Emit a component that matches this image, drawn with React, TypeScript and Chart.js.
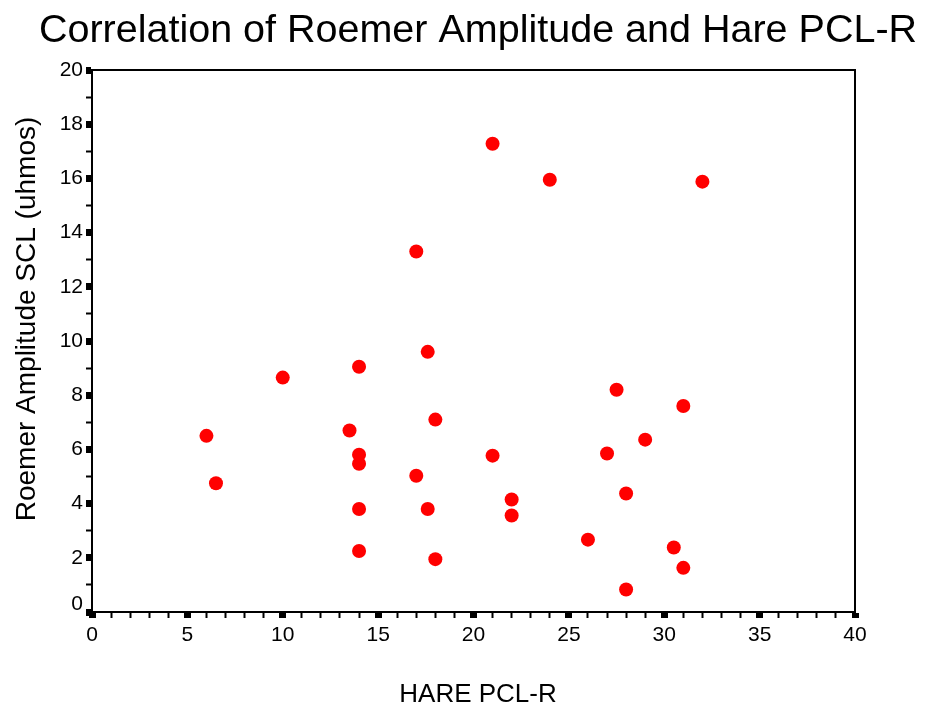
import React, { useEffect, useRef } from "react";
import { Chart, registerables } from "chart.js";

Chart.register(...registerables);

const CHART_TITLE = "Correlation of Roemer Amplitude and Hare PCL-R";
const X_TITLE = "HARE PCL-R";
const Y_TITLE = "Roemer Amplitude SCL (uhmos)";

const harePCLR = [6, 6.5, 10, 13.5, 14, 14, 14, 14, 14, 17, 17, 17.6, 17.6, 18, 18, 21, 21, 22, 22, 24, 26, 27, 27.5, 28, 28, 29, 30.5, 31, 31, 32];
const roemerSCL = [6.5, 4.75, 8.65, 6.7, 9.05, 5.8, 5.47, 3.8, 2.25, 13.3, 5.03, 9.6, 3.8, 7.1, 1.95, 17.28, 5.77, 4.15, 3.56, 15.95, 2.67, 5.85, 8.2, 4.37, 0.83, 6.36, 2.38, 7.6, 1.63, 15.88];

const X_MIN = 0, X_MAX = 40, X_MAJOR = 5;
const Y_MIN = 0, Y_MAX = 20, Y_MAJOR = 2;

const FONT = '"Liberation Sans", Arial, Helvetica, sans-serif';

const textPlugin = {
  id: "textPlugin",
  afterDraw(chart: any) {
    const { ctx, chartArea } = chart;
    ctx.save();
    ctx.strokeStyle = "#000";
    ctx.lineWidth = 2;
    ctx.beginPath();
    ctx.moveTo(chartArea.left, chartArea.top);
    ctx.lineTo(chartArea.right, chartArea.top);
    ctx.lineTo(chartArea.right, chartArea.bottom);
    ctx.stroke();
    ctx.fillStyle = "#000";
    ctx.textAlign = "center";
    ctx.textBaseline = "alphabetic";
    ctx.font = `39.5px ${FONT}`;
    ctx.fillText(CHART_TITLE, 478, 42);
    ctx.font = `26px ${FONT}`;
    ctx.fillText(X_TITLE, 478, 702);
    ctx.translate(35, 319);
    ctx.rotate(-Math.PI / 2);
    ctx.font = `28px ${FONT}`;
    ctx.fillText(Y_TITLE, 0, 0);
    ctx.restore();
  },
};

export default function App() {
  const ref = useRef<HTMLCanvasElement>(null);
  useEffect(() => {
    if (!ref.current) return;
    const points = harePCLR.map((x, i) => ({ x, y: roemerSCL[i] }));
    const chart = new Chart(ref.current, {
      type: "scatter",
      data: {
        datasets: [
          {
            data: points,
            backgroundColor: "#ff0000",
            borderWidth: 0,
            pointRadius: 7,
            pointHoverRadius: 7,
          },
        ],
      },
      options: {
        responsive: false,
        animation: false,
        layout: { padding: { left: 0, right: 71, top: 70, bottom: 0 } },
        plugins: { legend: { display: false }, tooltip: { enabled: false }, title: { display: false } },
        scales: {
          x: {
            type: "linear",
            min: X_MIN,
            max: X_MAX,
            afterFit: (s: any) => { s.height = 98; },
            border: { display: true, color: "#000", width: 2 },
            grid: {
              drawOnChartArea: false,
              drawTicks: true,
              tickLength: 6,
              tickColor: "#000",
              tickWidth: (c: any) => (c.tick && c.tick.value % X_MAJOR === 0 ? 7 : 2),
            },
            ticks: {
              stepSize: 1,
              autoSkip: false,
              maxRotation: 0,
              padding: 5,
              color: "#000",
              font: { family: FONT, size: 21 },
              callback: (v: any) => (v % X_MAJOR === 0 ? String(v) : ""),
            },
          },
          y: {
            type: "linear",
            min: Y_MIN,
            max: Y_MAX,
            afterFit: (s: any) => { s.width = 92; },
            border: { display: true, color: "#000", width: 2 },
            grid: {
              drawOnChartArea: false,
              drawTicks: true,
              tickLength: 6,
              tickColor: "#000",
              tickWidth: (c: any) => (c.tick && c.tick.value % Y_MAJOR === 0 ? 7 : 2),
            },
            ticks: {
              stepSize: 1,
              autoSkip: false,
              padding: 3,
              color: "#000",
              font: (c: any) => ({ family: FONT, size: 21, lineHeight: c.tick && c.tick.value === 0 ? 0.7 : 1.2 }),
              callback: (v: any) => (v === 0 ? ["0", ""] : v % Y_MAJOR === 0 ? String(v) : ""),
            },
          },
        },
      },
      plugins: [textPlugin],
    });
    return () => chart.destroy();
  }, []);
  return (
    <div style={{ position: "fixed", left: 0, top: 0, width: 926, height: 710, background: "#fff" }}>
      <canvas ref={ref} width={926} height={710} style={{ display: "block" }} />
    </div>
  );
}
